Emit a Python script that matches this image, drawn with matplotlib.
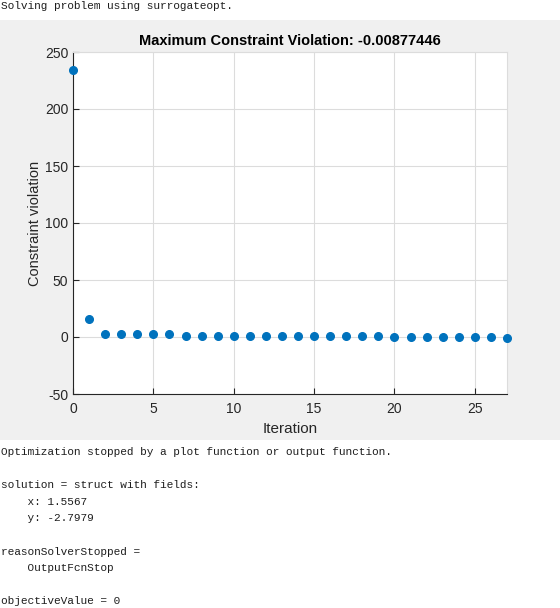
import matplotlib
matplotlib.use("Agg")
import matplotlib.pyplot as plt

plt.rcParams["axes.unicode_minus"] = False

iterations = list(range(28))
violation = [234, 15.5, 2.5, 2.5, 2.5, 2.5, 2.5, 1, 1, 1, 1, 1, 1, 1, 1, 1, 1, 1, 1, 1,
             0, 0, 0, 0, 0, 0, 0, -0.9]
xticks = [0, 5, 10, 15, 20, 25]
yticks = [-50, 0, 50, 100, 150, 200, 250]
title = "Maximum Constraint Violation: -0.00877446"

console_top = ["Solving problem using surrogateopt."]
console_bottom = [
    "Optimization stopped by a plot function or output function.",
    "",
    "solution = struct with fields:",
    "    x: 1.5567",
    "    y: -2.7979",
    "",
    "reasonSolverStopped =",
    "    OutputFcnStop",
    "",
    "objectiveValue = 0",
]

W, H = 560, 608
fig = plt.figure(figsize=(W / 100, H / 100), dpi=100)
fig.patch.set_facecolor("white")

# gray figure panel (background axes)
bg = fig.add_axes([0, 1 - 440 / H, 1, (440 - 20) / H], zorder=-10)
bg.set_facecolor("#F0F0F0")
bg.set_xticks([])
bg.set_yticks([])
for s in bg.spines.values():
    s.set_visible(False)

ax = fig.add_axes([73 / W, 1 - 394 / H, 434 / W, 342 / H], zorder=1)
ax.set_facecolor("white")
ax.plot(iterations, violation, linestyle="none", marker="o", markersize=5.5,
        color="#0072BD", markeredgecolor="#0072BD", clip_on=False, zorder=3)
ax.set_xlim(0, 27)
ax.set_ylim(-50, 250)
ax.set_xticks(xticks)
ax.set_yticks(yticks)
ax.grid(True, color="#DCDCDC", linewidth=0.8)
ax.set_axisbelow(True)
for s in ["left", "bottom"]:
    ax.spines[s].set_color("#262626")
    ax.spines[s].set_linewidth(0.8)
for s in ["top", "right"]:
    ax.spines[s].set_color("#DCDCDC")
    ax.spines[s].set_linewidth(0.8)
ax.tick_params(direction="in", length=4, width=0.8, color="#262626",
               labelsize=10, labelcolor="#262626", top=False, right=False)
ax.tick_params(axis="x", pad=6)
for lab in ax.get_xticklabels() + ax.get_yticklabels():
    lab.set_family("Liberation Sans")
ax.set_xlabel("Iteration", fontsize=11, family="Liberation Sans", color="#262626", labelpad=4)
ax.set_ylabel("Constraint violation", fontsize=10.5, family="Liberation Sans", color="#262626", labelpad=2)
ax.set_title(title, fontsize=10.5, fontweight="bold", family="Liberation Sans", color="#000000", pad=5)

mono = dict(family="Liberation Mono", fontsize=8, color="#1E1E1E", va="center", ha="left")
fig.text(1 / W, 1 - 6 / H, console_top[0], **mono)
y0 = 452
for i, line in enumerate(console_bottom):
    if line:
        fig.text(1 / W, 1 - (y0 + i * 16.6) / H, line, **mono)

fig.savefig("out.png", dpi=100, facecolor=fig.get_facecolor())
